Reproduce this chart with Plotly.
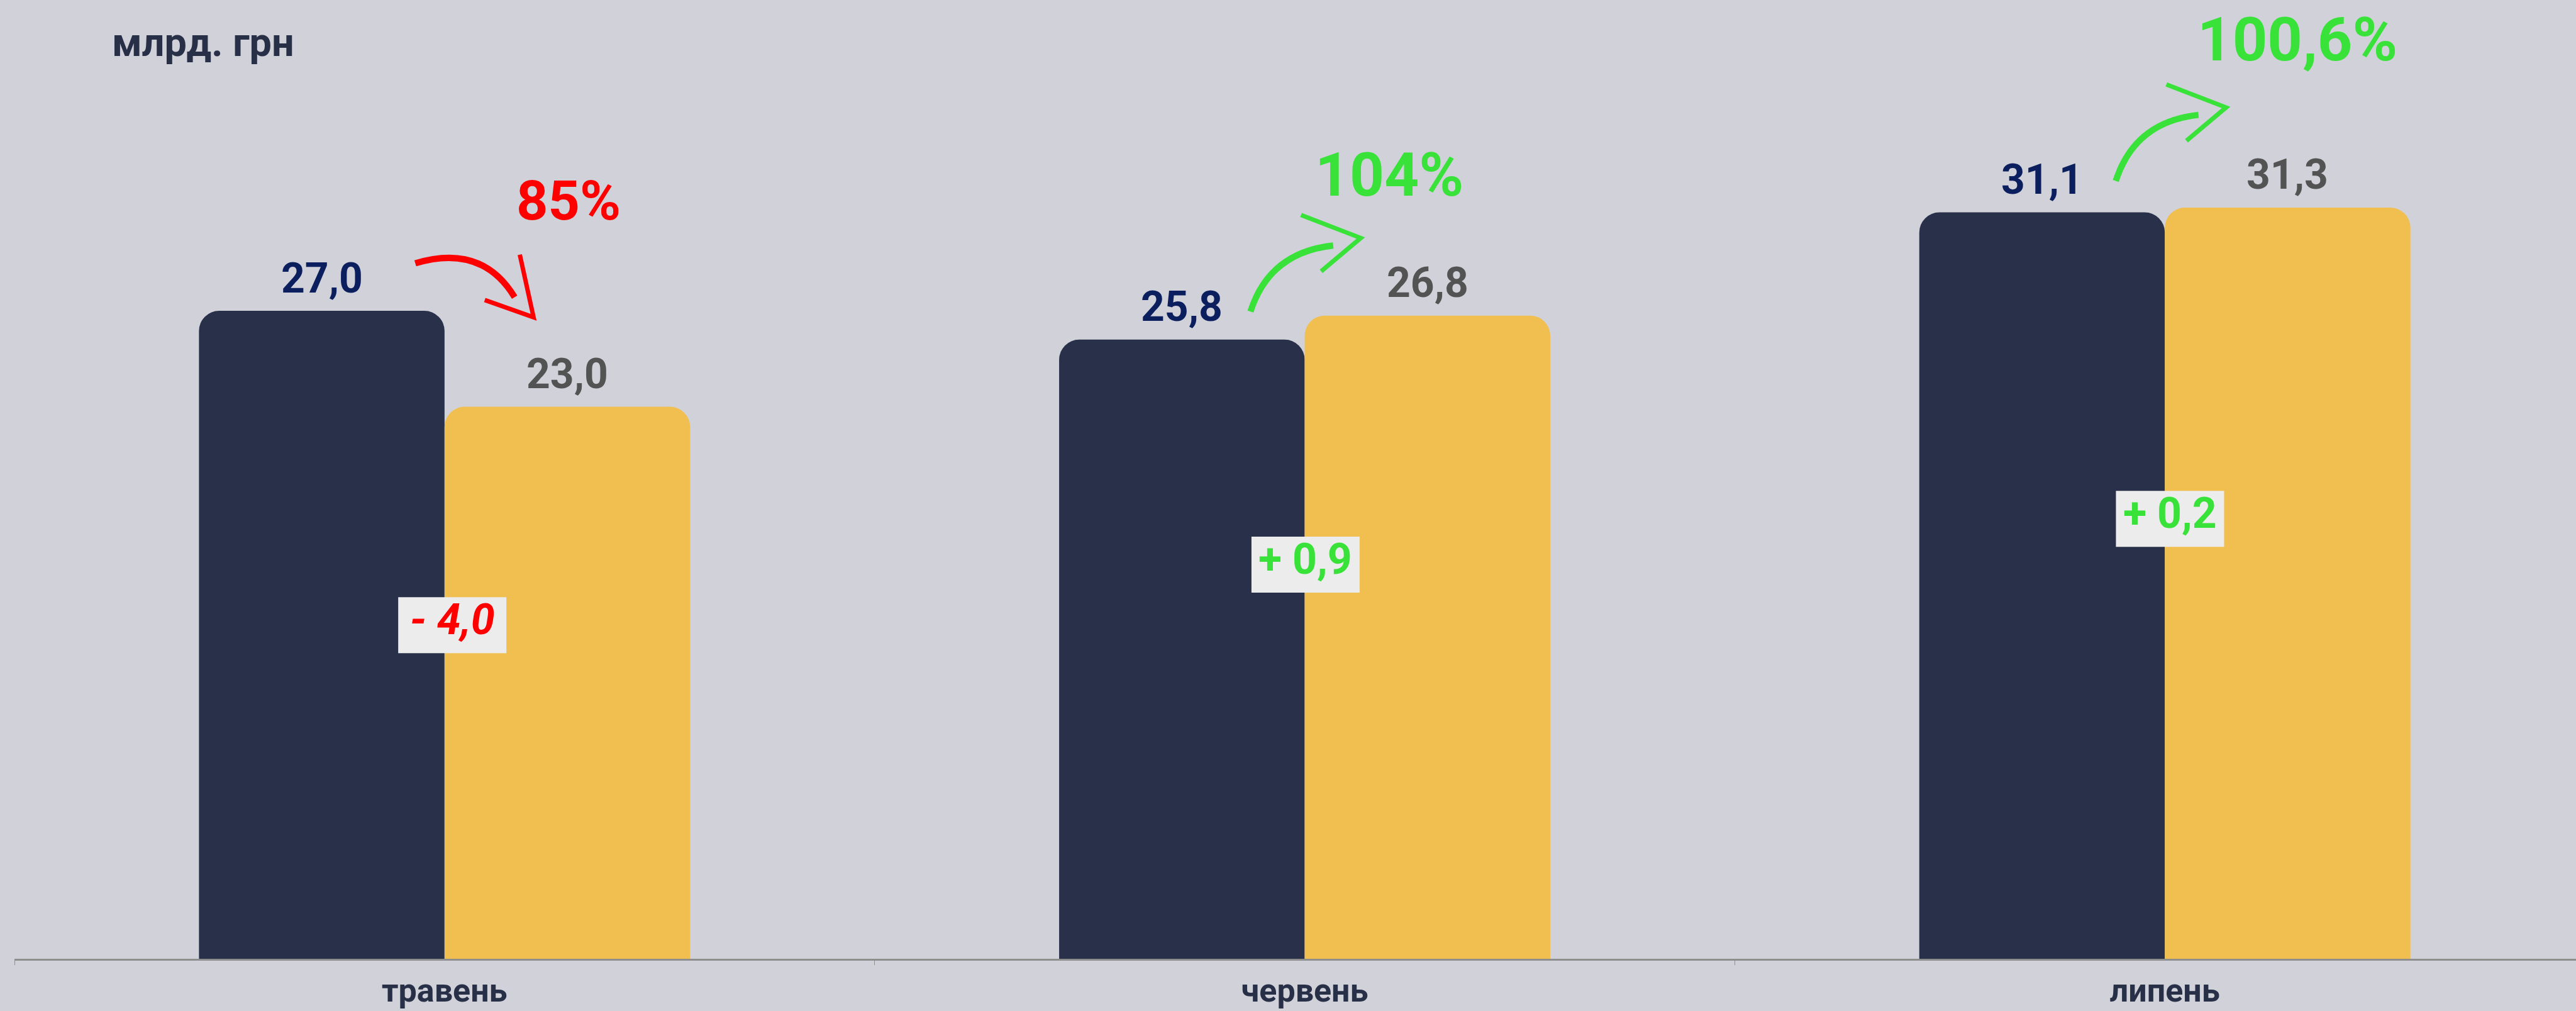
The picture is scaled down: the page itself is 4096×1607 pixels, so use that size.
import plotly.graph_objects as go

# ---------------- data ----------------
months = ["травень", "червень", "липень"]
plan = [27.0, 25.8, 31.1]          # dark bars
fact = [23.0, 26.8, 31.3]          # yellow bars
plan_labels = ["27,0", "25,8", "31,1"]
fact_labels = ["23,0", "26,8", "31,3"]
diff_values = [-4.0, 0.9, 0.2]
diff_labels = ["- 4,0", "+ 0,9", "+ 0,2"]
pct_labels = ["85%", "104%", "100,6%"]
unit_label = "млрд. грн"

# ---------------- layout / style ----------------
S = 0.913
W, H = 4096, 1607
ML, MB = 23, 83
X_RANGE = [-0.5, 2.478]
Y_RANGE = [0, 39.95]
PX_X = (W - ML) / (X_RANGE[1] - X_RANGE[0])
PX_Y = (H - MB) / (Y_RANGE[1] - Y_RANGE[0])
BARGAP = 0.429
OFF = (1 - BARGAP) / 4

BG = "#D1D1DA"
DARK = "#293049"
YELLOW = "#F0BF50"
NAVY = "#0B1F5E"
GREY = "#535353"
RED = "#FF0000"
GREEN = "#38E238"
AXIS = "#8E8E8E"
FONT = "Roboto"

pct_pos = [(0.144, 31.6), (1.098, 32.67), (2.154, 38.3)]
pct_size = [88, 96, 97]
box_pos = [(0.009, 13.9), (1.001, 16.42), (2.006, 18.33)]
arrow_anchor = [(-0.034, 28.98), (0.937, 26.97), (1.943, 32.41)]
# arrow geometry in reference pixels, offsets from anchor (y down)
ARROW_DOWN = dict(shaft=[(116, -35), (173, 59)], head=[(182, -15), (206, 94), (121, 64)])
ARROW_UP = dict(shaft=[(33, -103), (144, -115)], head=[(88, -168), (192, -128), (123, -70)])

fig = go.Figure()
fig.add_trace(go.Bar(x=months, y=plan, name="план", marker=dict(color=DARK, line=dict(width=0)),
                     showlegend=False, hoverinfo="skip"))
fig.add_trace(go.Bar(x=months, y=fact, name="факт", marker=dict(color=YELLOW, line=dict(width=0)),
                     showlegend=False, hoverinfo="skip"))

ann = []
shapes = []

def conv(ax, ay, dx, dy):
    return ax + dx * S / PX_X, ay - dy * S / PX_Y

for i in range(len(months)):
    # value labels
    ann.append(dict(x=i - OFF, y=plan[i], xref="x2", yref="y", text=plan_labels[i], showarrow=False,
                    yanchor="middle", yshift=52, font=dict(family=FONT, size=66, color=NAVY, weight="bold")))
    ann.append(dict(x=i + OFF, y=fact[i], xref="x2", yref="y", text=fact_labels[i], showarrow=False,
                    yanchor="middle", yshift=52, font=dict(family=FONT, size=66, color=GREY, weight="bold")))
    col = RED if diff_values[i] < 0 else GREEN
    # percentage labels
    px_, py_ = pct_pos[i]
    ann.append(dict(x=px_, y=py_, xref="x2", yref="y", text=pct_labels[i], showarrow=False,
                    yanchor="middle", font=dict(family=FONT, size=pct_size[i], color=col, weight="bold")))
    # difference boxes
    bx, by = box_pos[i]
    shapes.append(dict(type="rect", xref="x2", yref="y", xsizemode="pixel", ysizemode="pixel",
                       xanchor=bx, yanchor=by, x0=-86, x1=86, y0=-44.5, y1=44.5,
                       fillcolor="#ECECEC", line=dict(width=0), layer="above"))
    ann.append(dict(x=bx, y=by, xref="x2", yref="y", text=diff_labels[i], showarrow=False,
                    yanchor="middle", yshift=9,
                    font=dict(family=FONT, size=68, color=col, weight="bold",
                              style="italic" if diff_values[i] < 0 else "normal")))
    # arrows
    geo = ARROW_DOWN if diff_values[i] < 0 else ARROW_UP
    ax, ay = arrow_anchor[i]
    c = conv(ax, ay, *geo["shaft"][0])
    e = conv(ax, ay, *geo["shaft"][1])
    shapes.append(dict(type="path", xref="x2", yref="y",
                       path=f"M {ax},{ay} Q {c[0]},{c[1]} {e[0]},{e[1]}",
                       line=dict(color=col, width=10), layer="above"))
    h = [conv(ax, ay, *p) for p in geo["head"]]
    shapes.append(dict(type="path", xref="x2", yref="y",
                       path=f"M {h[0][0]},{h[0][1]} L {h[1][0]},{h[1][1]} L {h[2][0]},{h[2][1]}",
                       line=dict(color=col, width=7), layer="above"))

ann.append(dict(x=(176 - ML) / (W - ML), y=1 - 68 / (H - MB), xref="paper", yref="paper",
                text=unit_label, showarrow=False, xanchor="left", yanchor="middle",
                font=dict(family=FONT, size=63, color="#283048", weight="bold")))

fig.update_layout(
    width=W, height=H,
    margin=dict(l=ML, r=0, t=0, b=MB, pad=0, autoexpand=False),
    paper_bgcolor=BG, plot_bgcolor=BG,
    barmode="group", bargap=BARGAP, bargroupgap=0, barcornerradius=32,
    xaxis=dict(type="category", range=X_RANGE, showline=True, linecolor=AXIS, linewidth=2.5,
               ticks="outside", tickson="boundaries", ticklen=7, tickwidth=1, tickcolor=AXIS,
               ticklabelstandoff=3, showgrid=False, zeroline=False, automargin=False,
               tickfont=dict(family=FONT, size=52, color="#283048", weight="bold")),
    xaxis2=dict(overlaying="x", range=X_RANGE, visible=False, anchor="y", automargin=False),
    yaxis=dict(range=Y_RANGE, visible=False, showgrid=False, zeroline=False, automargin=False),
    annotations=ann, shapes=shapes,
)

fig.write_html("out.html", config={"displayModeBar": False},
               post_script="document.body.style.margin='0';document.body.style.overflow='hidden';")
